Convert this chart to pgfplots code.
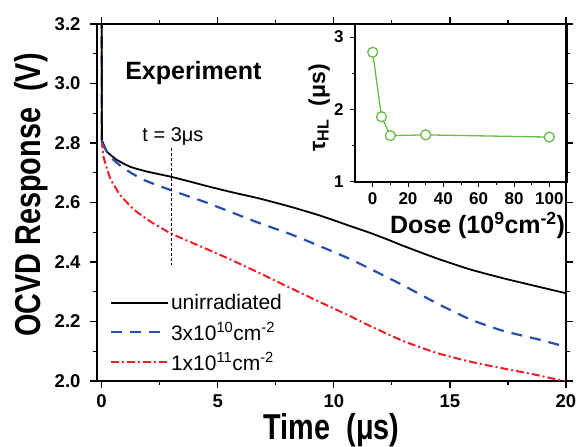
\documentclass[border=0pt]{standalone}
\usepackage{pgfplots}
\pgfplotsset{compat=1.18}
\usepackage{fontspec}
\setmainfont{Liberation Sans}
\newfontfamily\narrowfont[FakeStretch=0.8]{Liberation Sans}
\definecolor{cblue}{RGB}{40,80,170}
\definecolor{cred}{RGB}{238,30,36}
\definecolor{cgreen}{RGB}{104,188,72}
\begin{document}
\begin{tikzpicture}
\path[use as bounding box] (-97pt,-66pt) rectangle (479pt,381pt);
\begin{axis}[
  at={(0pt,0pt)}, anchor=south west,
  scale only axis, width=469pt, height=357pt,
  xmin=-0.2, xmax=20, ymin=2.0, ymax=3.2,
  xtick={0,5,10,15,20}, minor x tick num=1,
  ytick={2.0,2.2,2.4,2.6,2.8,3.0,3.2}, minor y tick num=1,
  tick align=outside,
  major tick length=7pt, minor tick length=4pt,
  axis line style={line width=1.5pt},
  every tick/.style={black, line width=1.2pt},
  /pgf/number format/assume math mode=true,
  tick label style={font=\bfseries\fontsize{18.5}{18.5}\selectfont},
  yticklabel shift=6pt, xticklabel shift=3pt,
  yticklabel style={/pgf/number format/.cd, fixed, fixed zerofill, precision=1},
  xlabel={Time\ \ (μs)},
  ylabel={OCVD Response\ \ (V)},
  xlabel style={font=\narrowfont\bfseries\fontsize{36}{36}\selectfont, at={(axis description cs:0.5,-0.1625)}, anchor=base},
  ylabel style={font=\narrowfont\bfseries\fontsize{36}{36}\selectfont, at={(axis description cs:-0.1215,0.521)}, anchor=base},
  legend style={at={(axis description cs:0.0205,0.254)}, anchor=north west, draw=none, fill=none,
    font=\fontsize{21}{21}\selectfont, row sep=7pt, nodes={inner sep=2pt}},
  legend cell align=left,
  legend image code/.code={\draw[#1] (0pt,0pt) -- (48pt,0pt); \path (0pt,0pt) -- (57pt,0pt);},
]
\addplot[black, line width=1.8pt, smooth, tension=0.3] coordinates {
(0.01,2.81) (0.23,2.771) (0.66,2.743) (1.23,2.72) (1.95,2.704) (2.96,2.687) (3.82,2.67) (4.54,2.655) (5.53,2.636) (6.82,2.613) (8.12,2.586) (9.41,2.556) (10.7,2.521) (11.56,2.498) (12.3,2.476) (13.0,2.454) (14.44,2.412) (15.87,2.375) (17.31,2.345) (18.75,2.318) (20,2.295)};
\addlegendentry{unirradiated}
\addplot[cblue, line width=2.2pt, dash pattern=on 11pt off 8pt, smooth, tension=0.3] coordinates {
(0.01,2.80) (0.37,2.754) (0.95,2.715) (1.81,2.676) (2.96,2.642) (4.4,2.603) (5.53,2.569) (6.82,2.53) (8.12,2.494) (9.41,2.453) (10.7,2.41) (11.7,2.372) (13.0,2.321) (14.44,2.261) (15.87,2.207) (17.31,2.168) (18.75,2.141) (20,2.115)};
\addlegendentry{3x10\textsuperscript{10}cm\textsuperscript{-2}}
\addplot[cred, line width=2pt, dash pattern=on 8pt off 3pt on 2pt off 3pt, smooth, tension=0.3] coordinates {
(0.01,2.81) (0.08,2.754) (0.37,2.681) (0.8,2.625) (1.38,2.577) (2.1,2.536) (2.96,2.497) (3.8,2.468) (4.6,2.441) (5.53,2.409) (6.82,2.362) (8.12,2.313) (9.41,2.265) (10.7,2.218) (11.56,2.185) (13.0,2.134) (14.44,2.094) (15.87,2.065) (17.31,2.042) (18.75,2.02) (20,1.998)};
\addlegendentry{1x10\textsuperscript{11}cm\textsuperscript{-2}}
\addplot[cred, line width=2pt, dash pattern=on 8pt off 3pt on 2pt off 3pt, forget plot] coordinates {(0.01,2.81) (0,3.3)};
\addplot[cblue, line width=2.2pt, dash pattern=on 11pt off 8pt, forget plot] coordinates {(0.01,2.80) (0,3.3)};
\addplot[black, line width=1.8pt, forget plot] coordinates {(0.01,2.81) (0,3.3)};
\addplot[black, line width=0.9pt, dash pattern=on 3pt off 2pt, forget plot] coordinates {(3,2.783) (3,2.39)};
\node[font=\fontsize{20}{20}\selectfont, anchor=base] at (axis cs:3.07,2.804) {t = 3μs};
\node[font=\bfseries\fontsize{25}{25}\selectfont, anchor=base] at (axis cs:3.95,3.012) {Experiment};
\end{axis}
\begin{axis}[
  at={(258pt,199pt)}, anchor=south west,
  scale only axis, width=212pt, height=158pt,
  xmin=-10, xmax=110, ymin=1, ymax=3.18,
  xtick={0,20,40,60,80,100}, minor x tick num=1,
  ytick={1,2,3}, minor y tick num=1,
  tick pos=left, tick align=outside,
  major tick length=5pt, minor tick length=3pt,
  axis line style={line width=1.2pt},
  every tick/.style={black, line width=1pt},
  /pgf/number format/assume math mode=true,
  tick label style={font=\bfseries\fontsize{17}{17}\selectfont},
  yticklabel shift=3pt, xticklabel shift=2pt,
  xlabel={Dose (10\textsuperscript{9}cm\textsuperscript{-2})},
  ylabel={τ\textsubscript{HL}\ \ (μs)},
  xlabel style={font=\bfseries\fontsize{25}{25}\selectfont, at={(axis description cs:0.578,-0.323)}, anchor=base},
  ylabel style={font=\bfseries\fontsize{23}{23}\selectfont, at={(axis description cs:-0.1415,0.47)}, anchor=base},
]
\addplot[cgreen, line width=1.3pt, mark=*, mark size=5pt, mark options={fill=white, line width=1.3pt}] coordinates {
(0,2.79) (5,1.90) (10,1.64) (30,1.65) (100,1.62)};
\end{axis}
\end{tikzpicture}
\end{document}
